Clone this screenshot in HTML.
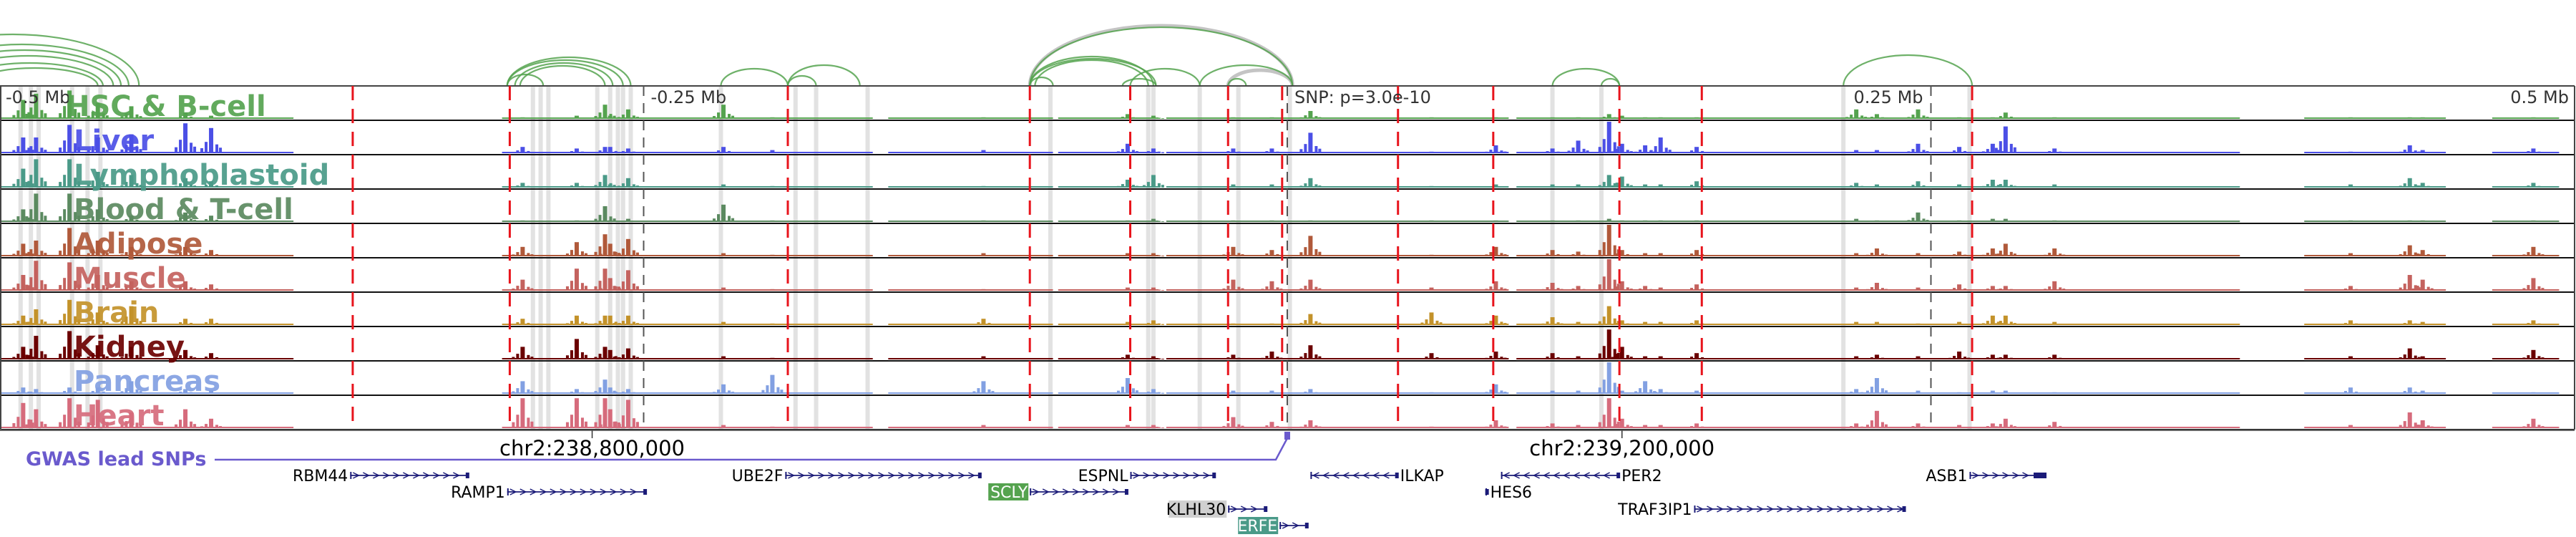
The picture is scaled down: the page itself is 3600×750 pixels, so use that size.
<!DOCTYPE html>
<html><head><meta charset="utf-8">
<style>
html,body{margin:0;padding:0;background:#fff;}
svg{display:block;}
text{font-family:"DejaVu Sans","Liberation Sans",sans-serif;}
</style></head>
<body>
<svg id="chart" width="3600" height="750" viewBox="0 0 3600 750" xmlns="http://www.w3.org/2000/svg">
<g id="bands"></g>
<g id="arcs"></g>
<g id="tracks"></g>
<g id="vlines"></g>
<g id="labels"></g>
<g id="axis"></g>
<g id="genes"></g>
</svg>
<script>
// ---- data ----
const trackNames = ["HSC & B-cell","Liver","Lymphoblastoid","Blood & T-cell","Adipose","Muscle","Brain","Kidney","Pancreas","Heart"];
const trackColors = ["#55a34f","#4b4fe6","#4a9a88","#5b8a60","#b0593a","#c4625e","#c3922a","#6b0000","#82a0e2","#d66b7c"];
const peakPositionsKb = [-491,-486,-473,-462,-449,-428,-418,-297,-276,-265,-263,-256,-219,-200,-118,-62,-52,-21,-6,9,56,81,103,113,125,130,139,145,159,221,229,245,261,274,279,298,413,436,441,484];
const hscValues = [.6,.8,.9,.5,.4,.2,.1,.05,.1,.45,.1,.3,.45,.05,.05,.15,.1,.05,.05,.25,.05,.05,.05,.05,.15,.1,.05,.05,.05,.3,.15,.3,.05,.05,.2,.05,.05,.05,.05,.05];
const liverValues = [.5,.5,.9,.5,.6,.95,.8,.2,.15,.2,.2,.15,.2,.1,.1,.3,.15,.15,.15,.65,.05,.25,.15,.4,1,.3,.25,.5,.2,.1,.1,.3,.2,.3,.85,.15,.05,.25,.1,.15];
const lymphValues = [.6,.9,.9,.5,.4,.3,.2,.15,.15,.4,.1,.3,.1,.05,.05,.25,.4,.1,.1,.3,.05,.1,.1,.1,.4,.35,.1,.1,.2,.15,.1,.2,.1,.25,.25,.1,.1,.3,.15,.15];
const bloodValues = [.4,.9,.9,.4,.2,.3,.2,.05,.05,.5,.05,.1,.55,.05,.05,.05,.1,.05,.05,.05,.05,.05,.05,.05,.1,.05,.05,.05,.05,.1,.05,.3,.05,.1,.1,.05,.05,.05,.05,.05];
const adiposeValues = [.4,.5,.9,.5,.3,.3,.2,.3,.45,.7,.4,.55,.1,.05,.1,.1,.1,.3,.2,.65,.05,.3,.2,.15,1,.2,.1,.1,.2,.1,.25,.1,.15,.25,.4,.25,.1,.35,.2,.3];
const muscleValues = [.5,.95,.9,.5,.3,.3,.2,.35,.7,.7,.4,.65,.1,.05,.05,.1,.1,.35,.3,.35,.1,.3,.25,.15,1,.3,.15,.1,.2,.1,.25,.1,.2,.15,.15,.3,.15,.5,.35,.4];
const brainValues = [.3,.5,.8,.4,.6,.2,.2,.2,.3,.3,.3,.3,.1,.05,.2,.1,.15,.05,.05,.35,.4,.3,.25,.1,.6,.15,.1,.1,.15,.1,.1,.05,.1,.3,.3,.1,.15,.15,.1,.15];
const kidneyValues = [.4,.75,.9,.45,.4,.3,.2,.4,.65,.4,.3,.35,.1,.05,.1,.15,.1,.15,.25,.45,.2,.25,.2,.1,.95,.4,.1,.1,.2,.1,.15,.1,.25,.15,.15,.15,.1,.35,.1,.3];
const pancreasValues = [.2,.15,.2,.2,.4,.15,.1,.4,.15,.45,.2,.15,.3,.6,.4,.5,.15,.1,.1,.15,.05,.3,.1,.1,1,.1,.4,.15,.1,.15,.5,.1,.05,.1,.1,.05,.2,.2,.1,.05];
const heartValues = [.8,.6,.95,.9,.5,.6,.3,.95,.95,.95,.6,.9,.1,.05,.1,.1,.1,.35,.2,.25,.05,.25,.15,.1,.95,.3,.1,.1,.15,.15,.55,.15,.1,.15,.3,.2,.1,.5,.25,.3];
const baselineStartKb = [-500,-305,-155,-89,-47,89,395,468];
const baselineEndKb = [-386,-161,-91,-50,86,370,450,494];
const redLinesKb = [-363,-302,-194,-100,-61,-23,-2,43,80,129,161,266];
const tickKb = [-500,-250,0,250,500];
const tickLabels = ["-0.5 Mb","-0.25 Mb","SNP: p=3.0e-10","0.25 Mb","0.5 Mb"];
const bandKb = [-492,-488,-485,-472,-466,-461,-293,-290,-287,-268,-263,-260,-258,-255,-220,-191,-183,-163,-92,-54,-52,-34,-19,1,103,122,216,265];
const arcStartKb = [-544,-533,-528,-522,-517,-511,-303,-303,-300,-303,-298,-220,-194,-194,-100,-100,-100,-98,-100,-61,-34,-23,-64,103,122,216];
const arcEndKb = [-446,-450,-453,-456,-460,-462,-255,-258,-262,-289,-265,-194,-166,-183,2,-52,-51,-54,-91,-34,2,-16,-51,129,129,266];
const arcPeakPx = [48,62,70,78,88,95,80,84,88,104,92,96,91,106,38,79,82,84,108,96,91,110,110,96,110,77];
const grayArcStartKb = [-100,-23];
const grayArcEndKb = [2,2];
const grayArcPeakPx = [36,98];
const geneNames = ["RBM44","RAMP1","UBE2F","ESPNL","SCLY","KLHL30","ERFE","ILKAP","PER2","HES6","TRAF3IP1","ASB1"];
const geneStartKb = [-364,-303,-195,-61,-100,-23,-3,9,83,77,158,265];
const geneEndKb = [-318,-249,-119,-28,-62,-8,8,43,129,78,240,291];
const geneRows = [0,1,0,0,1,2,3,0,0,1,2,0];
const geneStrand = [1,1,1,1,1,1,1,-1,-1,-1,1,1];
const coordTickKb = [-270,130];
const coordLabels = ["chr2:238,800,000","chr2:239,200,000"];
const snpKb = 0;

// ---- scales ----
const X0 = 0, X1 = 3598, TOP = 120, TH = 48;
const x = kb => X0 + (kb + 500) / 1000 * (X1 - X0);
const NS = "http://www.w3.org/2000/svg";
function mk(tag, attrs, parent){const e=document.createElementNS(NS,tag);for(const k in attrs)e.setAttribute(k,attrs[k]);parent.appendChild(e);return e;}

// bands
const bands=document.getElementById('bands');
bandKb.forEach(b=>{const r=mk('rect',{x:x(b)-3,y:TOP,width:6,height:TH*10,fill:'#e2e2e2'},bands);

});

// arcs
const arcs=document.getElementById('arcs');
grayArcStartKb.forEach((s,i)=>{const a=x(s),b=x(grayArcEndKb[i]);const rx=(b-a)/2,ry=TOP-grayArcPeakPx[i];
const p=mk('path',{d:`M${a},${TOP} A${rx},${ry} 0 0 1 ${b},${TOP}`,fill:'none',stroke:'#c4c4c4','stroke-width':5},arcs);

});
arcStartKb.forEach((s,i)=>{const a=x(s),b=x(arcEndKb[i]);const rx=(b-a)/2,ry=TOP-arcPeakPx[i];
const p=mk('path',{d:`M${a},${TOP} A${rx},${ry} 0 0 1 ${b},${TOP}`,fill:'none',stroke:'#55a34f','stroke-width':2.2,'stroke-opacity':0.85},arcs);

});

// tracks
const allValues=[hscValues,liverValues,lymphValues,bloodValues,adiposeValues,muscleValues,brainValues,kidneyValues,pancreasValues,heartValues];
const tracks=document.getElementById('tracks');
allValues.forEach((vals,t)=>{
  const g=mk('g',{},tracks);
  
  
  const base=TOP+TH*(t+1)-2, col=trackColors[t];
  baselineStartKb.forEach((s,i)=>{const r=mk('rect',{x:x(s),y:base-2,width:x(baselineEndKb[i])-x(s),height:2,fill:col},g);
  
  });
  peakPositionsKb.forEach((p,i)=>{
    const h=vals[i]*44, cx=x(p);
    const r=mk('rect',{x:cx-3,y:base-h,width:6,height:h,fill:col},g);
    
    
    [[-9,0.45],[6,0.35],[-15,0.2],[11,0.22]].forEach(([o,f])=>{mk('rect',{x:cx+o,y:base-h*f,width:4,height:h*f,fill:col},g);});
  });
  mk('line',{x1:0,x2:X1,y1:TOP+TH*(t+1),y2:TOP+TH*(t+1),stroke:'#111','stroke-width':2},g);
});
mk('line',{x1:0,x2:X1,y1:TOP,y2:TOP,stroke:'#444','stroke-width':2},tracks);
mk('line',{x1:X1,x2:X1,y1:TOP,y2:TOP+TH*10,stroke:'#444','stroke-width':2},tracks);
mk('line',{x1:1,x2:1,y1:TOP,y2:TOP+TH*10,stroke:'#444','stroke-width':2},tracks);

// vertical marker lines
const vl=document.getElementById('vlines');
redLinesKb.forEach(k=>{const l=mk('line',{x1:x(k),x2:x(k),y1:TOP,y2:TOP+TH*10,stroke:'#e8141c','stroke-width':3,'stroke-dasharray':'20 12'},vl);

});
tickKb.slice(1,4).forEach(k=>{const l=mk('line',{x1:x(k),x2:x(k),y1:TOP,y2:TOP+TH*10,stroke:'#555','stroke-width':2,'stroke-dasharray':'14 10'},vl);

});
tickKb.forEach((k,i)=>{let xx=x(k)+10,anchor='start';if(i===4){xx=x(k)-8;anchor='end';}if(i===0)xx=8;if(i===3){xx=x(k)-108;}
const t=mk('text',{x:xx,y:144,'font-size':24,fill:'#333','text-anchor':anchor},vl);t.textContent=tickLabels[i];

});

// labels
const lab=document.getElementById('labels');
trackNames.forEach((n,t)=>{const t2=mk('text',{x:t===0?92:103,y:TOP+TH*t+42,'font-size':40,'font-weight':'bold',fill:trackColors[t],'fill-opacity':0.92},lab);t2.textContent=n;

});

// axis
const ax=document.getElementById('axis');
mk('line',{x1:0,x2:X1,y1:601,y2:601,stroke:'#666','stroke-width':2},ax);
coordTickKb.forEach((k,i)=>{mk('line',{x1:x(k),x2:x(k),y1:601,y2:612,stroke:'#333','stroke-width':1.5},ax);
const t=mk('text',{x:x(k),y:636,'font-size':29,fill:'#000','text-anchor':'middle'},ax);t.textContent=coordLabels[i];

});
const gw=mk('text',{x:36,y:650,'font-size':27,'font-weight':'bold',fill:'#6a5acd'},ax);gw.textContent='GWAS lead SNPs';


const sx=x(snpKb);
mk('polyline',{points:`300,642 ${sx-16},642 ${sx},612`,fill:'none',stroke:'#6a5acd','stroke-width':2.5},ax);
const sr=mk('rect',{x:sx-4,y:603,width:8,height:11,fill:'#6a5acd'},ax);



// genes
const gn=document.getElementById('genes');
const rowY=[664,687,711,734];
const boxColor={SCLY:'#55a34f',KLHL30:'#d0d0d0',ERFE:'#4a9a88'};
geneNames.forEach((n,i)=>{
  const g=mk('g',{},gn);
  
  
  const a=x(geneStartKb[i]),b=x(geneEndKb[i]),y=rowY[geneRows[i]],c='#1b1b78';
  mk('line',{x1:a,x2:b,y1:y,y2:y,stroke:c,'stroke-width':1.8},g);
  for(let p=a+8;p<b-6;p+=14){const d=geneStrand[i]*4;mk('polyline',{points:`${p-d},${y-4} ${p+d},${y} ${p-d},${y+4}`,fill:'none',stroke:c,'stroke-width':1.5},g);}
  mk('rect',{x:b-4,y:y-4,width:(n==='ASB1'?18:5),height:8,fill:c},g);
  mk('rect',{x:a,y:y-5,width:2,height:10,fill:c},g);
  const rev=geneStrand[i]<0;
  const tx=rev?b+3:a-3;
  if(boxColor[n]){const w=n.length*12.5+6;mk('rect',{x:a-w-2,y:y-12,width:w,height:24,fill:boxColor[n]},g);}
  const t=mk('text',{x:tx,y:y+8,'font-size':22,fill:boxColor[n]&&n!=='KLHL30'?'#fff':'#000','text-anchor':rev?'start':'end'},g);t.textContent=n;
});
</script>
</body></html>
